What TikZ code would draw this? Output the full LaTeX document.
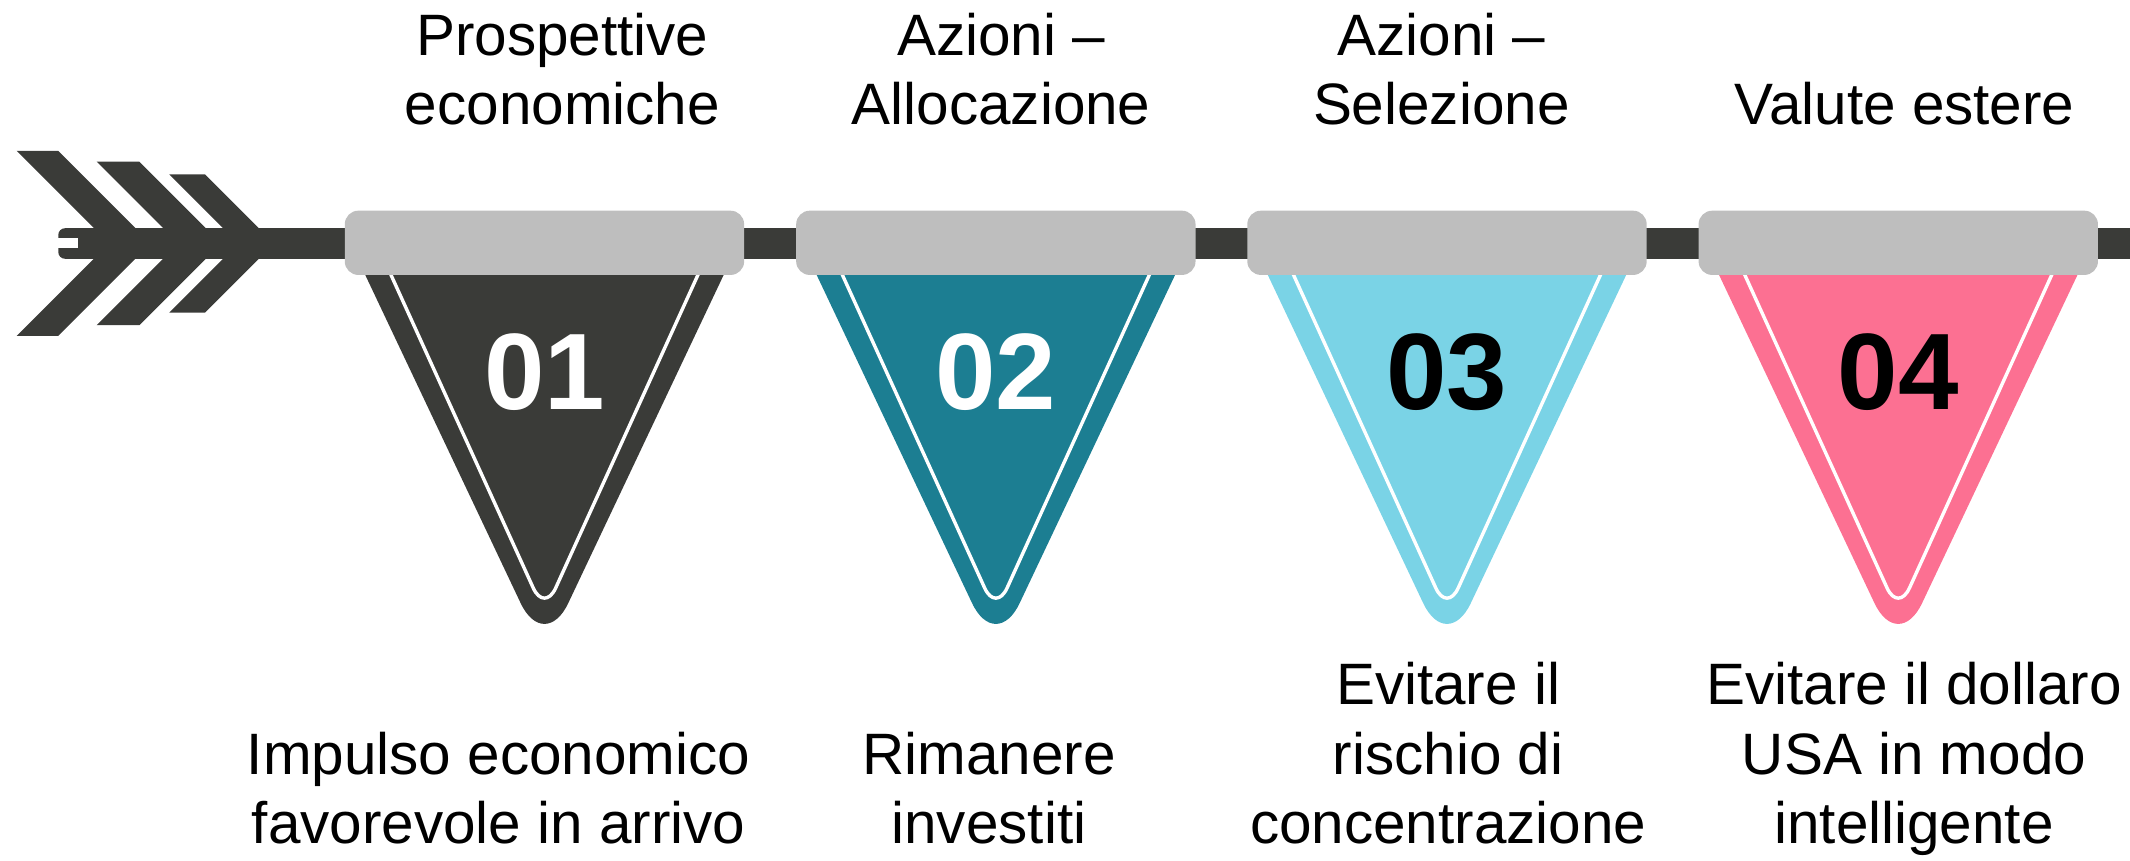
\documentclass[tikz,border=0pt]{standalone}
\usepackage{fontspec}
\setmainfont{Liberation Sans}
\definecolor{ink}{HTML}{3A3B38}
\definecolor{pteal}{HTML}{1C7E92}
\definecolor{plight}{HTML}{7AD3E6}
\definecolor{ppink}{HTML}{FC7092}
\definecolor{pcap}{HTML}{BEBEBE}
\tikzset{
  capbox/.style={fill=pcap, draw=none, rounded corners=10pt, minimum width=294pt, minimum height=47.3pt, inner sep=0pt},
  numtext/.style={inner sep=0pt, font=\fontsize{80}{90}\selectfont\bfseries},
  labeltext/.style={inner sep=0pt, align=center, anchor=south, font=\fontsize{43}{51}\selectfont},
  whiteline/.style={draw=white, line width=2.5pt, rounded corners=20pt},
}
\newcommand\mypennant[5]{%
  \fill[#2, rounded corners=41pt] (#1-152,160) -- (#1,481) -- (#1+152,160) -- cycle;
  \draw[whiteline] (#1-118.6,190) -- (#1,451) -- (#1+118.6,190);
  \node[capbox] (cap#5) at (#1,178.75) {};
  \node[numtext, text=#3] (num#5) at (#1,274.2) {#4};
}
\begin{document}
\begin{tikzpicture}[x=1pt,y=-1pt]
\useasboundingbox (0,0) rectangle (1568,633.1);
% shaft
\fill[ink, rounded corners=5pt] (42.9,168) rectangle (1590,190.5);
\fill[white] (42.9,175.4) rectangle (57.6,182.8);
% fletching
\fill[ink] (12.3,111.1) -- (42.9,111.1) -- (111,179.2) -- (42.9,247.3) -- (12.3,247.3) -- (80.4,179.2) -- cycle;
\fill[ink] (71.2,119) -- (102.6,119) -- (162.8,179.2) -- (102.6,239.4) -- (71.2,239.4) -- (131.4,179.2) -- cycle;
\fill[ink] (124.6,128.3) -- (150.9,128.3) -- (201.8,179.2) -- (150.9,230.1) -- (124.6,230.1) -- (175.5,179.2) -- cycle;
% pennants
\mypennant{400.8}{ink}{white}{01}{1}
\mypennant{733.1}{pteal}{white}{02}{2}
\mypennant{1065.2}{plight}{black}{03}{3}
\mypennant{1397.4}{ppink}{black}{04}{4}
% labels
\node[labeltext] (top1) at (414,101.05) {Prospettive\\economiche\vphantom{g}};
\node[labeltext] (top2) at (737,101.05) {Azioni –\\Allocazione\vphantom{g}};
\node[labeltext] (top3) at (1061,101.05) {Azioni –\\Selezione\vphantom{g}};
\node[labeltext] (top4) at (1402,101.05) {Valute estere\vphantom{g}};
\node[labeltext] (bot1) at (367,630.05) {Impulso economico\\favorevole in arrivo\vphantom{g}};
\node[labeltext] (bot2) at (728,630.05) {Rimanere\\investiti\vphantom{g}};
\node[labeltext] (bot3) at (1066,630.05) {Evitare il\\rischio di\\concentrazione\vphantom{g}};
\node[labeltext] (bot4) at (1409,630.05) {Evitare il dollaro\\USA in modo\\intelligente\vphantom{g}};
\end{tikzpicture}
\end{document}
